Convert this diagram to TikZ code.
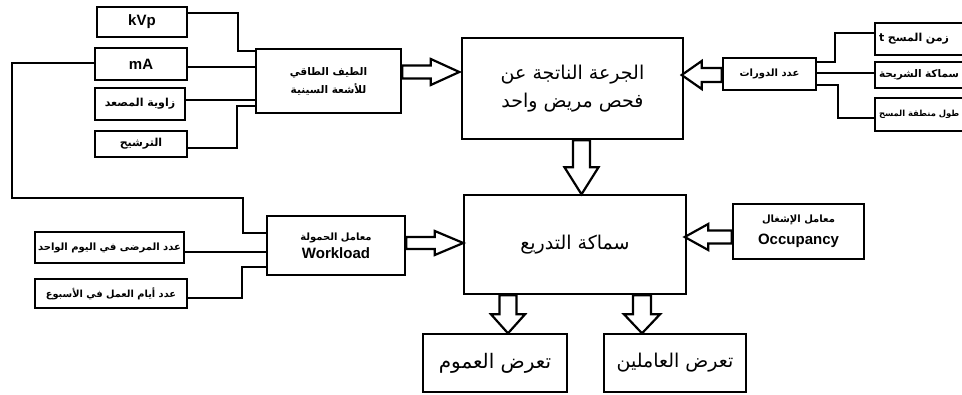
\documentclass[tikz,border=0pt]{standalone}
\usepackage{fontspec}
\setmainfont{Liberation Sans}
\newfontfamily\arabicfont[Script=Arabic]{DejaVu Sans}
\TeXXeTstate=1
\newcommand\artxt[1]{{\arabicfont\beginR #1\endR}}
\newcommand\latfont{\bfseries\fontsize{15}{18}\selectfont}
\newcommand\fsz[1]{\fontsize{#1}{#1}\selectfont}
\tikzset{
  box/.style={draw, line width=2.6pt, inner sep=2pt, align=center},
  sidebox/.style={box, text width=120pt, align=left, inner xsep=4pt},
  link/.style={line width=2pt},
  pics/fatarrow/.style n args={2}{code={
    \draw[line width=2.2pt, fill=white, line join=miter]
      (0,-#2) -- (#1/2,-#2) -- (#1/2,-2*#2) -- (#1,0) -- (#1/2,2*#2) -- (#1/2,#2) -- (0,#2) -- cycle;}}
}
\begin{document}
\begin{tikzpicture}[x=1pt,y=-1pt]
  \useasboundingbox (0,0) rectangle (962,394);
  \clip (0,0) rectangle (962,394);
  \draw
    (142,22) node[box, minimum width=90, minimum height=30, font=\latfont] (kvp){kVp}
    (141,64) node[box, minimum width=92, minimum height=32, font=\latfont] (ma){mA}
    (140,104) node[box, minimum width=90, minimum height=32, font=\bfseries\fsz{11}] (anode){\artxt{زاوية المصعد}}
    (141,144) node[box, minimum width=92, minimum height=26, font=\bfseries\fsz{11}] (filt){\artxt{الترشيح}}
    (328.5,81) node[box, minimum width=145, minimum height=64, font=\bfseries\fontsize{10.5}{18}\selectfont] (spec){\artxt{الطيف الطاقي}\\\artxt{للأشعة السينية}}
    (572.5,88.5) node[box, minimum width=221, minimum height=101, font=\fontsize{19}{28}\selectfont] (dose){\artxt{الجرعة الناتجة عن}\\\artxt{فحص مريض واحد}}
    (769.5,74) node[box, minimum width=93, minimum height=32, font=\bfseries\fsz{10}] (cycles){\artxt{عدد الدورات}}
    (939,39) node[sidebox, minimum height=32, font=\bfseries\fsz{11}] (scantime){\artxt{زمن المسح t}}
    (939,75) node[sidebox, minimum height=26, font=\bfseries\fsz{10.5}] (slice){\artxt{سماكة الشريحة}}
    (939,114.5) node[sidebox, minimum height=33, font=\bfseries\fsz{8.4}] (scanlen){\artxt{طول منطقة المسح}}
    (336,245.5) node[box, minimum width=138, minimum height=59, font=\bfseries\fontsize{10}{18}\selectfont] (workload){\artxt{معامل الحمولة}\\{\latfont Workload}}
    (109.5,247.5) node[box, minimum width=149, minimum height=31, font=\bfseries\fsz{10}] (patients){\artxt{عدد المرضى في اليوم الواحد}}
    (111,293.5) node[box, minimum width=152, minimum height=29, font=\bfseries\fsz{9.8}] (days){\artxt{عدد أيام العمل في الأسبوع}}
    (575,244.5) node[box, minimum width=222, minimum height=99, font=\fsz{19}] (shield){\artxt{سماكة التدريع}}
    (798.5,231.5) node[box, minimum width=131, minimum height=55, font=\bfseries\fontsize{10}{22}\selectfont] (occup){\artxt{معامل الإشغال}\\{\latfont Occupancy}}
    (495,363) node[box, minimum width=144, minimum height=58, font=\fsz{20}] (public){\artxt{تعرض العموم}}
    (675,363) node[box, minimum width=142, minimum height=58, font=\fsz{19}] (workers){\artxt{تعرض العاملين}};
  \begin{scope}[link]
    \draw (kvp.east|-0,13) -- (238,13) |- (spec.west|-0,51);
    \draw (ma.east|-0,67) -- (spec.west|-0,67);
    \draw (anode.east|-0,100) -- (spec.west|-0,100);
    \draw (filt.east|-0,148) -- (237,148) |- (spec.west|-0,106);
    \draw (ma.west|-0,63) -- (12,63) -- (12,198) -- (243,198) |- (workload.west|-0,233);
    \draw (patients.east|-0,252) -- (workload.west|-0,252);
    \draw (days.east|-0,298) -- (242,298) |- (workload.west|-0,267);
    \draw (cycles.east|-0,62) -- (835,62) |- (scantime.west|-0,33);
    \draw (cycles.east|-0,73) -- (slice.west|-0,73);
    \draw (cycles.east|-0,85) -- (838,85) |- (scanlen.west|-0,118);
  \end{scope}
  \pic at (spec.east|-0,72) {fatarrow={57}{6.5}};
  \pic[rotate=180] at (cycles.west|-0,75) {fatarrow={40}{7}};
  \pic[rotate=-90] at ([xshift=9pt]dose.south) {fatarrow={54}{8.5}};
  \pic at (workload.east|-0,243) {fatarrow={57}{6}};
  \pic[rotate=180] at (occup.west|-0,237) {fatarrow={47}{6.5}};
  \pic[rotate=-90] at (shield.south-|508,0) {fatarrow={38}{8.5}};
  \pic[rotate=-90] at (shield.south-|642,0) {fatarrow={38}{9}};
\end{tikzpicture}
\end{document}
